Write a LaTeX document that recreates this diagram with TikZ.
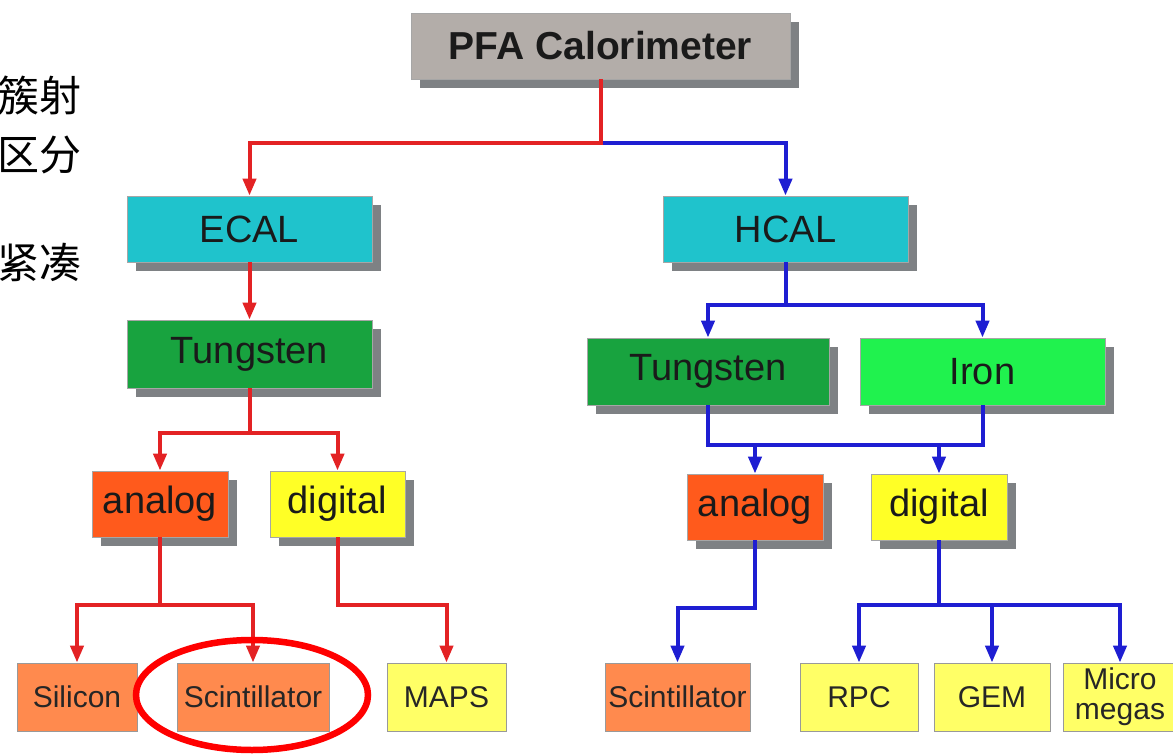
\documentclass[tikz,border=0pt]{standalone}
\usepackage{fontspec}
\setmainfont{Liberation Sans}
\newfontfamily\cjk{Noto Sans CJK SC}
\usetikzlibrary{arrows.meta,shadows}
\definecolor{pfagray}{HTML}{B3ADA9}
\definecolor{shadowgray}{HTML}{7E8184}
\definecolor{calcyan}{HTML}{1FC3CC}
\definecolor{tungreen}{HTML}{18A33F}
\definecolor{irongreen}{HTML}{20F24E}
\definecolor{anaorange}{HTML}{FF5A1C}
\definecolor{digyellow}{HTML}{FFFF26}
\definecolor{leaforange}{HTML}{FF8A4E}
\definecolor{leafyellow}{HTML}{FFFF66}
\definecolor{linered}{HTML}{E32224}
\definecolor{lineblue}{HTML}{1E1ED2}
\definecolor{ringred}{HTML}{FF0000}
\definecolor{txtdark}{HTML}{1A1A1A}
\tikzset{
  upbox/.style={draw=black!35, line width=0.8pt, inner sep=0pt, text=txtdark,
    drop shadow={shadow xshift=9pt, shadow yshift=-9pt, fill=shadowgray, opacity=1},
    font=\fontsize{38}{40}\selectfont},
  leafbox/.style={draw=black!40, line width=0.8pt, inner sep=0pt, minimum height=68pt,
    text=black!85, align=center, font=\fontsize{30}{30}\selectfont},
  rl/.style={draw=linered, line width=4pt},
  bl/.style={draw=lineblue, line width=4pt},
  tip/.style={-{Triangle[width=13pt,length=17pt]}},
  cjktext/.style={anchor=east, inner sep=0pt, font=\cjk\fontsize{42}{42}\selectfont, text=black}
}
\begin{document}
\begin{tikzpicture}[x=1pt,y=-1pt]
\useasboundingbox[fill=white] (0,0) rectangle (1173,754);
\begin{scope}
\clip (0,0) rectangle (1173,754);
% side text
\node[cjktext] (t1) at (82,95) {簇射};
\node[cjktext] (t2) at (82,155) {区分};
\node[cjktext] (t3) at (82,262) {紧凑};
% boxes
\node[upbox, fill=pfagray, minimum width=379pt, minimum height=66pt,
      font=\bfseries\fontsize{39}{40}\selectfont] (pfa) at (600.5,46) {PFA Calorimeter};
\node[upbox, fill=calcyan, minimum width=245pt, minimum height=66pt] (ecal) at (249.5,229) {ECAL};
\node[upbox, fill=calcyan, minimum width=245pt, minimum height=66pt] (hcal) at (785.5,229) {HCAL};
\node[upbox, fill=tungreen, minimum width=245pt, minimum height=68pt] (tungL) at (249.5,354) {Tungsten};
\node[upbox, fill=tungreen, minimum width=242pt, minimum height=67pt] (tungR) at (708,371.5) {Tungsten};
\node[upbox, fill=irongreen, minimum width=245pt, minimum height=67pt] (iron) at (982.5,371.5) {Iron};
\node[upbox, fill=anaorange, minimum width=136pt, minimum height=66pt] (anaL) at (160,504) {analog};
\node[upbox, fill=digyellow, minimum width=135pt, minimum height=66pt] (digL) at (337.5,504) {digital};
\node[upbox, fill=anaorange, minimum width=136pt, minimum height=66pt] (anaR) at (755,507) {analog};
\node[upbox, fill=digyellow, minimum width=136pt, minimum height=66pt] (digR) at (939,507) {digital};
\node[leafbox, fill=leaforange, minimum width=120pt] (silicon) at (77,697) {Silicon};
\node[leafbox, fill=leaforange, minimum width=152pt] (scintL) at (253,697) {Scintillator};
\node[leafbox, fill=leafyellow, minimum width=119pt] (maps) at (446.5,697) {MAPS};
\node[leafbox, fill=leaforange, minimum width=145pt] (scintR) at (677.5,697) {Scintillator};
\node[leafbox, fill=leafyellow, minimum width=118pt] (rpc) at (859,697) {RPC};
\node[leafbox, fill=leafyellow, minimum width=116pt] (gem) at (992,697) {GEM};
\node[leafbox, fill=leafyellow, minimum width=114pt] (micro) at (1120,697) {Micro\\megas};
% junction levels
\coordinate (j0) at (0,143);
\coordinate (jL1) at (0,433);
\coordinate (jL2) at (0,605);
\coordinate (jR1) at (0,305);
\coordinate (jR2) at (0,445);
\coordinate (jR3) at (0,608);
\coordinate (jR4) at (0,605);
% connectors
\draw[bl,tip] (pfa.south |- j0) -| (hcal.north);
\draw[rl,tip] (pfa.south) |- (ecal.north |- j0) -- (ecal.north);
\draw[rl,tip] (ecal.south) -- (tungL.north);
\draw[rl] (tungL.south) -- (tungL.south |- jL1);
\draw[rl,tip] (tungL.south |- jL1) -| (anaL.north);
\draw[rl,tip] (tungL.south |- jL1) -| (digL.north);
\draw[rl] (anaL.south) -- (anaL.south |- jL2);
\draw[rl,tip] (anaL.south |- jL2) -| (silicon.north);
\draw[rl,tip] (anaL.south |- jL2) -| (scintL.north);
\draw[rl,tip] (digL.south) |- (maps.north |- jL2) -- (maps.north);
\draw[bl] (hcal.south) -- (hcal.south |- jR1);
\draw[bl,tip] (hcal.south |- jR1) -| (tungR.north);
\draw[bl,tip] (hcal.south |- jR1) -| (iron.north);
\draw[bl] (tungR.south) |- (iron.south |- jR2) -- (iron.south);
\draw[bl,tip] (anaR.north |- jR2) -- (anaR.north);
\draw[bl,tip] (digR.north |- jR2) -- (digR.north);
\draw[bl,tip] (anaR.south) |- (scintR.north |- jR3) -- (scintR.north);
\draw[bl] (digR.south) -- (digR.south |- jR4);
\draw[bl,tip] (digR.south |- jR4) -| (rpc.north);
\draw[bl,tip] (digR.south |- jR4) -| (gem.north);
\draw[bl,tip] (digR.south |- jR4) -| (micro.north);
% highlight ring
\draw[ringred, line width=6.5pt] (252,695) ellipse [x radius=116pt, y radius=55pt];
\end{scope}
\end{tikzpicture}
\end{document}
